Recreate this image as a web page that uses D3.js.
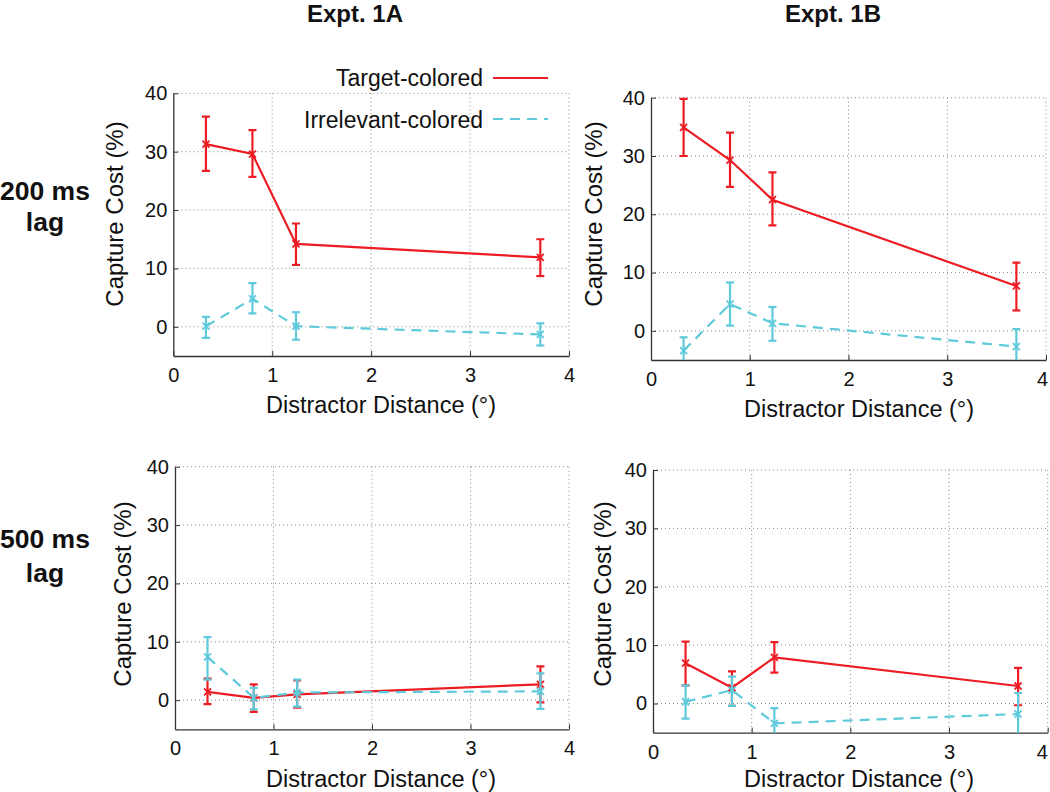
<!DOCTYPE html>
<html>
<head>
<meta charset="utf-8">
<script src="https://cdn.jsdelivr.net/npm/d3@7"></script>
<style>
  html, body { margin: 0; padding: 0; background: #fff; }
  svg { display: block; }
  text { font-family: "Liberation Sans", Arial, Helvetica, sans-serif; fill: #111; }
</style>
</head>
<body>
<svg id="chart" width="1050" height="792"></svg>
<script>
// ---------------- DATA ----------------
const xTicks = [0, 1, 2, 3, 4];
const yTicks = [0, 10, 20, 30, 40];
const xDomain = [0, 4];
const yDomain = [-5, 40];

const columnTitles = ["Expt. 1A", "Expt. 1B"];
const rowLabels = [["200 ms", "lag"], ["500 ms", "lag"]];
const seriesNames = ["Target-colored", "Irrelevant-colored"];
const xLabel = "Distractor Distance (°)";
const yLabel = "Capture Cost (%)";

const distance1A = [0.33, 0.80, 1.24, 3.71];
const distance1B = [0.33, 0.80, 1.23, 3.70];

// 200 ms lag, Expt. 1A
const target1A200 = [31.3, 29.6, 14.2, 11.9];
const target1A200Lo = [26.7, 25.7, 10.6, 8.7];
const target1A200Hi = [36.0, 33.7, 17.7, 15.0];
const irrel1A200 = [0.1, 4.8, 0.1, -1.3];
const irrel1A200Lo = [-1.9, 2.3, -2.2, -3.2];
const irrel1A200Hi = [1.7, 7.5, 2.5, 0.6];

// 200 ms lag, Expt. 1B
const target1B200 = [34.9, 29.3, 22.5, 7.7];
const target1B200Lo = [30.0, 24.7, 18.1, 3.5];
const target1B200Hi = [39.8, 34.0, 27.2, 11.7];
const irrel1B200 = [-3.4, 4.6, 1.3, -2.7];
const irrel1B200Lo = [-5.7, 0.9, -1.7, -5.7];
const irrel1B200Hi = [-1.1, 8.3, 4.1, 0.3];

// 500 ms lag, Expt. 1A
const target1A500 = [1.4, 0.4, 1.0, 2.7];
const target1A500Lo = [-0.7, -2.0, -1.3, -0.4];
const target1A500Hi = [3.7, 2.7, 3.4, 5.8];
const irrel1A500 = [7.4, 0.4, 1.3, 1.5];
const irrel1A500Lo = [3.5, -1.6, -1.1, -1.5];
const irrel1A500Hi = [10.8, 2.1, 3.5, 4.6];

// 500 ms lag, Expt. 1B
const target1B500 = [6.9, 2.7, 7.9, 3.0];
const target1B500Lo = [3.1, -0.4, 5.3, -0.3];
const target1B500Hi = [10.6, 5.5, 10.5, 6.1];
const irrel1B500 = [0.3, 2.3, -3.4, -1.8];
const irrel1B500Lo = [-2.6, -0.4, -6.0, -5.4];
const irrel1B500Hi = [3.1, 4.6, -0.8, 1.8];

// ---------------- STYLE / LAYOUT ----------------
const RED = "#ec1c24";
const CYAN = "#5ecadb";
const AXIS = "#333";
const GRID = "#8a8a8a";

const panels = [
  { x: distance1A, t: [target1A200, target1A200Lo, target1A200Hi], r: [irrel1A200, irrel1A200Lo, irrel1A200Hi],
    box: [173.3, 569, 93.3, 356], ylab: [123, 214], xlab: [381, 413], legend: true, lastDx: 0 },
  { x: distance1B, t: [target1B200, target1B200Lo, target1B200Hi], r: [irrel1B200, irrel1B200Lo, irrel1B200Hi],
    box: [651, 1046, 97.7, 360], ylab: [602, 214], xlab: [859, 417], legend: false, lastDx: -4 },
  { x: distance1A, t: [target1A500, target1A500Lo, target1A500Hi], r: [irrel1A500, irrel1A500Lo, irrel1A500Hi],
    box: [175, 569, 466.7, 729.3], ylab: [131, 594], xlab: [381, 787], legend: false, lastDx: 0 },
  { x: distance1B, t: [target1B500, target1B500Lo, target1B500Hi], r: [irrel1B500, irrel1B500Lo, irrel1B500Hi],
    box: [653, 1047.7, 470, 732.7], ylab: [611, 594], xlab: [859, 787], legend: false, lastDx: -6 }
];

const svg = d3.select("#chart");

// column titles
const titleX = [355, 833];
columnTitles.forEach((t, i) => {
  svg.append("text").attr("x", titleX[i]).attr("y", 22)
    .attr("text-anchor", "middle").attr("font-weight", "bold").attr("font-size", 24).text(t);
});
// row labels
const rowY = [[200, 231], [548, 582]];
rowLabels.forEach((lines, i) => {
  lines.forEach((l, j) => {
    svg.append("text").attr("x", 45).attr("y", rowY[i][j])
      .attr("text-anchor", "middle").attr("font-weight", "bold").attr("font-size", 26.5).text(l);
  });
});

panels.forEach((p, pi) => {
  const [x0, x1, y0, y1] = p.box;
  const xs = d3.scaleLinear().domain(xDomain).range([x0, x1]);
  const ys = d3.scaleLinear().domain(yDomain).range([y1, y0]);
  const g = svg.append("g");

  const clipId = "clip" + pi;
  svg.append("clipPath").attr("id", clipId).append("rect")
    .attr("x", x0 - 10).attr("y", y0 - 10).attr("width", x1 - x0 + 20).attr("height", y1 - y0 + 10);

  // grid
  g.append("g").selectAll("line").data(yTicks).join("line")
    .attr("x1", x0).attr("x2", x1).attr("y1", d => ys(d)).attr("y2", d => ys(d))
    .attr("stroke", GRID).attr("stroke-width", 1).attr("stroke-dasharray", "1,3");
  g.append("g").selectAll("line").data(xTicks.filter(d => d > 0)).join("line")
    .attr("x1", d => xs(d)).attr("x2", d => xs(d)).attr("y1", y0).attr("y2", y1)
    .attr("stroke", GRID).attr("stroke-width", 1).attr("stroke-dasharray", "1,3");

  // axes
  const fmt = d3.format("d");
  const xAxis = d3.axisBottom(xs).tickValues(xTicks).tickFormat(fmt).tickSize(-5).tickSizeOuter(0).tickPadding(12);
  const yAxis = d3.axisLeft(ys).tickValues(yTicks).tickFormat(fmt).tickSize(-5).tickSizeOuter(0).tickPadding(6);
  const gx = g.append("g").attr("transform", `translate(0,${y1})`).call(xAxis);
  const gy = g.append("g").attr("transform", `translate(${x0},0)`).call(yAxis);
  [gx, gy].forEach(a => {
    a.select(".domain").attr("stroke", AXIS).attr("stroke-width", 1.3);
    a.selectAll(".tick line").attr("stroke", AXIS).attr("stroke-width", 1);
    a.selectAll(".tick text").attr("font-size", 20).attr("fill", "#111")
      .attr("font-family", "Liberation Sans, Arial, Helvetica, sans-serif");
  });
  gx.selectAll(".tick text").filter(d => d === xDomain[1]).attr("dx", p.lastDx);

  // axis labels
  g.append("text").attr("x", p.xlab[0]).attr("y", p.xlab[1]).attr("text-anchor", "middle")
    .attr("font-size", 23.5).text(xLabel);
  g.append("text").attr("transform", `translate(${p.ylab[0]},${p.ylab[1]}) rotate(-90)`)
    .attr("text-anchor", "middle").attr("font-size", 24).text(yLabel);

  // series
  const series = [
    { vals: p.t, color: RED, dash: null },
    { vals: p.r, color: CYAN, dash: "10,7" }
  ];
  const plot = g.append("g").attr("clip-path", `url(#${clipId})`);
  series.forEach(s => {
    const [m, lo, hi] = s.vals;
    const pts = p.x.map((d, i) => ({ x: d, y: m[i], lo: lo[i], hi: hi[i] }));
    const line = d3.line().x(d => xs(d.x)).y(d => ys(d.y));
    plot.append("path").datum(pts).attr("d", line).attr("fill", "none")
      .attr("stroke", s.color).attr("stroke-width", 2.2)
      .attr("stroke-dasharray", s.dash);
    const eb = plot.append("g").attr("stroke", s.color).attr("stroke-width", 2.2);
    eb.selectAll(".v").data(pts).join("line")
      .attr("x1", d => xs(d.x)).attr("x2", d => xs(d.x))
      .attr("y1", d => ys(d.lo)).attr("y2", d => ys(d.hi));
    eb.selectAll(".ct").data(pts).join("line")
      .attr("x1", d => xs(d.x) - 4).attr("x2", d => xs(d.x) + 4)
      .attr("y1", d => ys(d.hi)).attr("y2", d => ys(d.hi));
    eb.selectAll(".cb").data(pts).join("line")
      .attr("x1", d => xs(d.x) - 4).attr("x2", d => xs(d.x) + 4)
      .attr("y1", d => ys(d.lo)).attr("y2", d => ys(d.lo));
    // x markers
    const mk = plot.append("g").attr("stroke", s.color).attr("stroke-width", 1.8);
    mk.selectAll(".m1").data(pts).join("line")
      .attr("x1", d => xs(d.x) - 3.5).attr("x2", d => xs(d.x) + 3.5)
      .attr("y1", d => ys(d.y) - 3.5).attr("y2", d => ys(d.y) + 3.5);
    mk.selectAll(".m2").data(pts).join("line")
      .attr("x1", d => xs(d.x) - 3.5).attr("x2", d => xs(d.x) + 3.5)
      .attr("y1", d => ys(d.y) + 3.5).attr("y2", d => ys(d.y) - 3.5);
  });

  // legend
  if (p.legend) {
    const leg = [
      { name: seriesNames[0], color: RED, dash: null, ty: 86, ly: 78 },
      { name: seriesNames[1], color: CYAN, dash: "10,7", ty: 128, ly: 119 }
    ];
    leg.forEach(l => {
      svg.append("text").attr("x", 483).attr("y", l.ty).attr("text-anchor", "end")
        .attr("font-size", 23).text(l.name);
      svg.append("line").attr("x1", 493).attr("x2", 548).attr("y1", l.ly).attr("y2", l.ly)
        .attr("stroke", l.color).attr("stroke-width", 2.2).attr("stroke-dasharray", l.dash);
    });
  }
});
</script>
</body>
</html>
